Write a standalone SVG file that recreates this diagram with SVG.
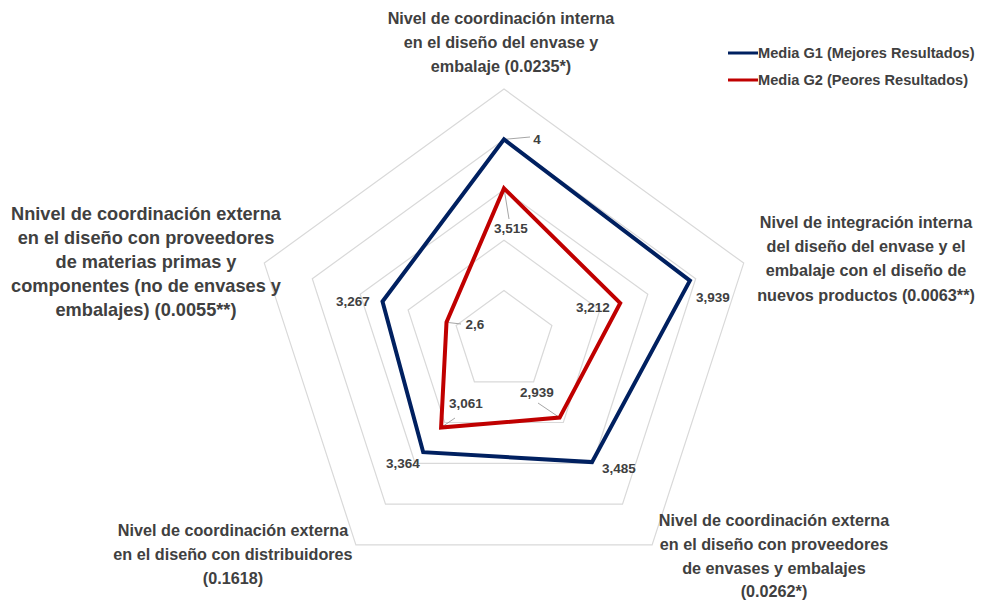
<svg xmlns="http://www.w3.org/2000/svg" width="987" height="601" viewBox="0 0 987 601">
<style>
.ring{fill:none;stroke:#d9d9d9;stroke-width:1.2}
.cat{font-family:"Liberation Sans",Arial,sans-serif;font-weight:bold;font-size:16.2px;fill:#404040;text-anchor:middle}
.big{font-size:18.2px}
.val{font-family:"Liberation Sans",Arial,sans-serif;font-weight:bold;font-size:13.5px;fill:#404040;text-anchor:middle}
.leg{font-family:"Liberation Sans",Arial,sans-serif;font-weight:bold;font-size:14.6px;fill:#404040}
.lead{stroke:#a6a6a6;stroke-width:1;fill:none}
.g1{fill:none;stroke:#002060;stroke-width:4;stroke-linejoin:miter}
.g2{fill:none;stroke:#c00000;stroke-width:4;stroke-linejoin:miter}
</style>
<rect width="987" height="601" fill="#ffffff"/>
<g id="grid">
<polygon class="ring" points="504,89 743.7,263.1 652.1,544.9 355.9,544.9 264.3,263.1"/>
<polygon class="ring" points="504,139.4 695.7,278.7 622.5,504.1 385.5,504.1 312.3,278.7"/>
<polygon class="ring" points="504,189.8 647.8,294.3 592.9,463.3 415.1,463.3 360.2,294.3"/>
<polygon class="ring" points="504,240.2 599.9,309.9 563.3,422.5 444.7,422.5 408.1,309.9"/>
<polygon class="ring" points="504,290.6 551.9,325.4 533.6,381.8 474.4,381.8 456.1,325.4"/>
</g>
<g id="connectors">
<line class="lead" x1="504" y1="139.4" x2="530" y2="137"/>
<line class="lead" x1="504" y1="188.3" x2="509" y2="219"/>
<line class="lead" x1="446.5" y1="322.3" x2="461" y2="324"/>
<line class="lead" x1="441.1" y1="427.5" x2="455" y2="418"/>
<line class="lead" x1="559.6" y1="417.6" x2="538" y2="403"/>
</g>
<g id="series-g1">
<polygon class="g1" points="504,139.4 689.9,280.6 592,462.1 423.2,452.2 382.5,301.5"/>
</g>
<g id="series-g2">
<polygon class="g2" points="504,188.3 620.2,303.2 559.6,417.6 441.1,427.5 446.5,322.3"/>
</g>
<g id="values">
<text class="val" x="537" y="144">4</text>
<text class="val" x="511" y="233">3,515</text>
<text class="val" x="593" y="312">3,212</text>
<text class="val" x="713" y="302">3,939</text>
<text class="val" x="537" y="397">2,939</text>
<text class="val" x="619" y="473">3,485</text>
<text class="val" x="466" y="408">3,061</text>
<text class="val" x="403" y="468">3,364</text>
<text class="val" x="353" y="306">3,267</text>
<text class="val" x="475" y="329">2,6</text>
</g>
<g id="label-top">
<text class="cat" x="501" y="24">Nivel de coordinación interna</text>
<text class="cat" x="501" y="48">en el diseño del envase y</text>
<text class="cat" x="501" y="72">embalaje (0.0235*)</text>
</g>
<g id="label-right">
<text class="cat" x="866" y="228">Nivel de integración interna</text>
<text class="cat" x="866" y="252">del diseño del envase y el</text>
<text class="cat" x="866" y="276">embalaje con el diseño de</text>
<text class="cat" x="866" y="301">nuevos productos (0.0063**)</text>
</g>
<g id="label-bottom-right">
<text class="cat" x="774" y="526">Nivel de coordinación externa</text>
<text class="cat" x="774" y="550">en el diseño con proveedores</text>
<text class="cat" x="774" y="574">de envases y embalajes</text>
<text class="cat" x="774" y="597">(0.0262*)</text>
</g>
<g id="label-bottom-left">
<text class="cat" x="233" y="536">Nivel de coordinación externa</text>
<text class="cat" x="233" y="560">en el diseño con distribuidores</text>
<text class="cat" x="233" y="584">(0.1618)</text>
</g>
<g id="label-left">
<text class="cat big" x="146" y="220">Nnivel de coordinación externa</text>
<text class="cat big" x="146" y="244">en el diseño con proveedores</text>
<text class="cat big" x="146" y="268">de materias primas y</text>
<text class="cat big" x="146" y="292">componentes (no de envases y</text>
<text class="cat big" x="146" y="316">embalajes) (0.0055**)</text>
</g>
<g id="legend">
<line x1="728" y1="53" x2="758" y2="53" stroke="#002060" stroke-width="3"/>
<text class="leg" x="758" y="58">Media G1 (Mejores Resultados)</text>
<line x1="728" y1="80" x2="758" y2="80" stroke="#c00000" stroke-width="3"/>
<text class="leg" x="758" y="85">Media G2 (Peores Resultados)</text>
</g>
</svg>
